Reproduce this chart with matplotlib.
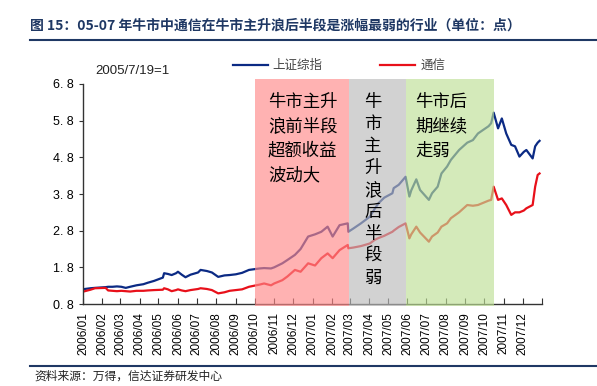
import matplotlib
matplotlib.use('Agg')
import matplotlib.pyplot as plt
import pandas as pd

plt.rcParams['font.family'] = ['Noto Sans CJK SC', 'DejaVu Sans']

# ---- data (2005/7/19 = 1) ----
dates = ['2006-01-04', '2006-01-13', '2006-01-20', '2006-02-06', '2006-02-10', '2006-02-17',
         '2006-02-24', '2006-03-03', '2006-03-10', '2006-03-17', '2006-03-27', '2006-04-07',
         '2006-04-14', '2006-04-24', '2006-05-08', '2006-05-10', '2006-05-16', '2006-05-22',
         '2006-05-29', '2006-06-01', '2006-06-07', '2006-06-13', '2006-06-21', '2006-07-03',
         '2006-07-07', '2006-07-17', '2006-07-25', '2006-08-04', '2006-08-14', '2006-08-22',
         '2006-09-01', '2006-09-11', '2006-09-22', '2006-10-09', '2006-10-16', '2006-10-27',
         '2006-11-01', '2006-11-14', '2006-11-22', '2006-12-04', '2006-12-13', '2006-12-25',
         '2007-01-05', '2007-01-15', '2007-01-25', '2007-02-02', '2007-02-13', '2007-02-26',
         '2007-02-27', '2007-03-07', '2007-03-19', '2007-04-02', '2007-04-10', '2007-04-16',
         '2007-04-25', '2007-05-08', '2007-05-10', '2007-05-18', '2007-05-29', '2007-06-04',
         '2007-06-07', '2007-06-15', '2007-06-21', '2007-07-05', '2007-07-10', '2007-07-19',
         '2007-07-25', '2007-08-03', '2007-08-09', '2007-08-22', '2007-09-04', '2007-09-13',
         '2007-09-21', '2007-10-08', '2007-10-12', '2007-10-16', '2007-10-23', '2007-10-29',
         '2007-11-05', '2007-11-13', '2007-11-19', '2007-11-26', '2007-12-03', '2007-12-07',
         '2007-12-17', '2007-12-21', '2007-12-25', '2007-12-28']

sh_index = [1.21, 1.23, 1.24, 1.26, 1.27, 1.27,
            1.28, 1.27, 1.24, 1.27, 1.31, 1.34,
            1.38, 1.43, 1.52, 1.64, 1.62, 1.59,
            1.64, 1.68, 1.60, 1.53, 1.60, 1.66,
            1.73, 1.70, 1.66, 1.54, 1.58, 1.59,
            1.61, 1.65, 1.73, 1.77, 1.78, 1.77,
            1.80, 1.91, 2.00, 2.14, 2.30, 2.64,
            2.70, 2.77, 2.91, 2.64, 2.95, 3.00,
            2.77, 2.86, 3.00, 3.18, 3.40, 3.55,
            3.70, 3.82, 3.96, 4.05, 4.27, 3.73,
            3.90, 4.20, 3.91, 3.64, 3.82, 4.00,
            4.36, 4.55, 4.73, 5.00, 5.20, 5.27,
            5.45, 5.65, 5.73, 6.02, 5.59, 5.86,
            5.45, 5.14, 5.10, 4.82, 4.95, 5.00,
            4.77, 5.10, 5.20, 5.25]

telecom = [1.15, 1.19, 1.23, 1.24, 1.17, 1.16,
           1.15, 1.16, 1.15, 1.14, 1.16, 1.16,
           1.17, 1.18, 1.19, 1.23, 1.20, 1.15,
           1.18, 1.20, 1.17, 1.15, 1.18, 1.21,
           1.23, 1.21, 1.18, 1.09, 1.12, 1.16,
           1.18, 1.20, 1.27, 1.33, 1.36, 1.31,
           1.36, 1.45, 1.55, 1.73, 1.68, 1.91,
           1.85, 2.05, 2.18, 2.05, 2.27, 2.41,
           2.32, 2.34, 2.38, 2.45, 2.55, 2.60,
           2.66, 2.77, 2.80, 2.90, 3.00, 2.59,
           2.70, 2.91, 2.75, 2.50, 2.64, 2.75,
           2.91, 3.00, 3.14, 3.30, 3.50, 3.48,
           3.50, 3.62, 3.64, 4.00, 3.64, 3.68,
           3.50, 3.23, 3.30, 3.30, 3.35, 3.41,
           3.50, 4.00, 4.32, 4.36]

phases = [('2006-10-02', '2007-02-28', '#FF8989', '牛市主升\n浪前半段\n超额收益\n波动大'),
          ('2007-02-28', '2007-05-29', '#BBBBBB', '牛\n市\n主\n升\n浪\n后\n半\n段\n弱'),
          ('2007-05-29', '2007-10-17', '#BEE096', '牛市后\n期继续\n走弱')]

yticks = [0.8, 1.8, 2.8, 3.8, 4.8, 5.8, 6.8]
month_ticks = pd.date_range('2006-01-01', '2007-12-01', freq='MS')

# ---- figure ----
fig = plt.figure(figsize=(5.97, 3.86), dpi=100)
ax = fig.add_axes([0.139, 0.2124, 0.769, 0.570])

x = pd.to_datetime(dates)
ax.plot(x, sh_index, color='#0B2A84', lw=1.6, label='上证综指', zorder=2)
ax.plot(x, telecom, color='#E8101A', lw=1.6, label='通信', zorder=2)

for start, end, col, _ in phases:
    ax.axvspan(pd.Timestamp(start), pd.Timestamp(end), ymin=-0.01, ymax=1.023,
               color=col, alpha=0.65, lw=0, zorder=3, clip_on=False)

# phase notes
ax.text(pd.Timestamp('2006-10-22'), 6.55, phases[0][3], fontsize=12.5, va='top',
        ha='left', linespacing=1.45, zorder=4)
ax.text(pd.Timestamp('2007-04-07'), 6.55, phases[1][3], fontsize=12.5, va='top',
        ha='center', linespacing=1.28, zorder=4)
ax.text(pd.Timestamp('2007-06-13'), 6.55, phases[2][3], fontsize=12.5, va='top',
        ha='left', linespacing=1.45, zorder=4)

ax.set_ylim(0.8, 6.8)
ax.set_xlim(pd.Timestamp('2006-01-01'), pd.Timestamp('2008-01-01'))
ax.set_yticks(yticks)
ax.set_yticklabels([f'{v:.1f}'.replace('.', '. ') for v in yticks], fontsize=9,
                   family=['Liberation Sans', 'DejaVu Sans'])
ax.set_xticks(list(month_ticks) + [pd.Timestamp('2008-01-01')])
ax.set_xticklabels([d.strftime('%Y/%m') for d in month_ticks] + [''], rotation=90,
                   fontsize=8.5, family=['Liberation Sans', 'DejaVu Sans'])
ax.tick_params(axis='x', direction='in', length=4, color='#333333', pad=6)
ax.tick_params(axis='y', direction='out', length=3, color='#333333')
for s in ['top', 'right']:
    ax.spines[s].set_visible(False)
for s in ['left', 'bottom']:
    ax.spines[s].set_color('#333333')
    ax.spines[s].set_linewidth(1.0)

leg = ax.legend(loc='lower left', bbox_to_anchor=(0.315, 1.03), ncol=2, frameon=False,
                fontsize=9, handlelength=2.8, columnspacing=4.6, handletextpad=0.4,
                borderaxespad=0)
for t in leg.get_texts():
    t.set_color('#444444')

fig.text(0.159, 0.815, '2005/7/19=1', fontsize=9.5, color='#222222',
         family=['Liberation Sans', 'DejaVu Sans'], va='center')

# title & footer
fig.text(0.05, 0.935, '图 15：05-07 年牛市中通信在牛市主升浪后半段是涨幅最弱的行业（单位：点）',
         fontsize=10, fontweight='bold', color='#1F3864', va='center')
fig.add_artist(plt.Line2D([0.05, 1.0], [0.896, 0.896], color='#1F3864', lw=1.5))
fig.add_artist(plt.Line2D([0.05, 1.0], [0.052, 0.052], color='#1F3864', lw=1.5))
fig.text(0.057, 0.026, '资料来源：万得，信达证券研发中心', fontsize=8.5, style='italic',
         color='#222222', va='center')

fig.savefig('out.png', dpi=100)
